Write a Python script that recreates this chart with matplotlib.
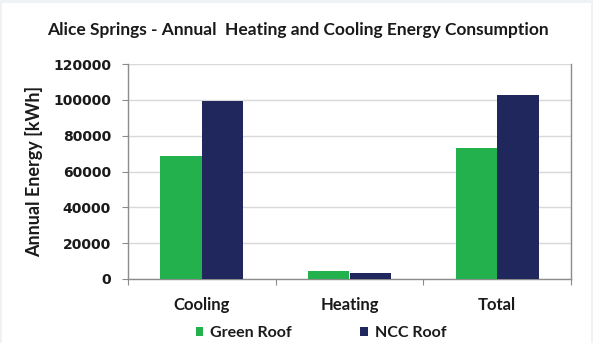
import matplotlib
matplotlib.use("Agg")
import matplotlib.pyplot as plt
from matplotlib.patches import Rectangle
import numpy as np

categories = ["Cooling", "Heating", "Total"]
green_roof = [68700, 4600, 73300]
ncc_roof = [99300, 3500, 102800]
series_names = ["Green Roof", "NCC Roof"]
y_ticks = [0, 20000, 40000, 60000, 80000, 100000, 120000]

GREEN = "#22b14c"
NAVY = "#1f275c"
GRID = "#d9d9d9"
SPINE = "#8c8c8c"
TEXT = "#1a1a1a"

plt.rcParams["font.family"] = ["Lato", "DejaVu Sans"]

W, H = 593, 343
fig = plt.figure(figsize=(W / 100, H / 100), dpi=100)
fig.patch.set_facecolor("#eef2f5")
# white chart sheet inside a thin pale frame
fig.patches.append(Rectangle((2 / W, 0), (W - 4) / W, (H - 3) / H,
                             transform=fig.transFigure, facecolor="white",
                             edgecolor="none", zorder=-10))

ax = fig.add_axes([128 / W, 1 - 279 / H, (571 - 128) / W, (279 - 64) / H])
ax.set_facecolor("white")

x = np.arange(len(categories))
bw = 0.282
ax.bar(x - bw / 2, green_roof, width=bw, color=GREEN, label=series_names[0], zorder=3)
ax.bar(x + bw / 2, ncc_roof, width=bw, color=NAVY, label=series_names[1], zorder=3)

ax.set_xlim(-0.5, len(categories) - 0.5)
ax.set_ylim(0, 120000)
ax.set_yticks(y_ticks)
ax.set_yticklabels([str(v) for v in y_ticks], fontsize=10, fontweight="bold",
                   color=TEXT, family="DejaVu Sans")
ax.yaxis.grid(True, color=GRID, linewidth=1, zorder=0)
ax.set_axisbelow(True)

# category boundary ticks, labels centred on the groups
ax.set_xticks(np.arange(len(categories) + 1) - 0.5)
ax.set_xticklabels([])
ax.set_xticks(x, minor=True)
ax.set_xticklabels(categories, minor=True, fontsize=12, fontweight="bold", color=TEXT)
ax.tick_params(axis="x", which="minor", length=0, pad=13)
ax.tick_params(axis="x", which="major", length=4.3, color=SPINE, direction="out")
ax.tick_params(axis="y", length=4.3, color=SPINE, direction="out", pad=7.9)

for side in ["left", "bottom", "right"]:
    ax.spines[side].set_color(SPINE)
    ax.spines[side].set_linewidth(1)
ax.spines["top"].set_visible(False)

ax.set_ylabel("Annual Energy [kWh]", fontsize=13, fontweight="bold", color=TEXT,
              labelpad=7)

fig.text(298 / W, 1 - 30 / H,
         "Alice Springs - Annual  Heating and Cooling Energy Consumption",
         ha="center", va="center", fontsize=12.5, fontweight="bold", color=TEXT)

leg = fig.legend(loc="center", bbox_to_anchor=(321 / W, 1 - 333 / H), ncol=2,
                 frameon=False, handlelength=0.45, handleheight=0.45,
                 handletextpad=0.45, columnspacing=4.3,
                 prop={"weight": "bold", "size": 11.5})
for t in leg.get_texts():
    t.set_color(TEXT)

fig.savefig("out.png", dpi=100, facecolor=fig.get_facecolor())
